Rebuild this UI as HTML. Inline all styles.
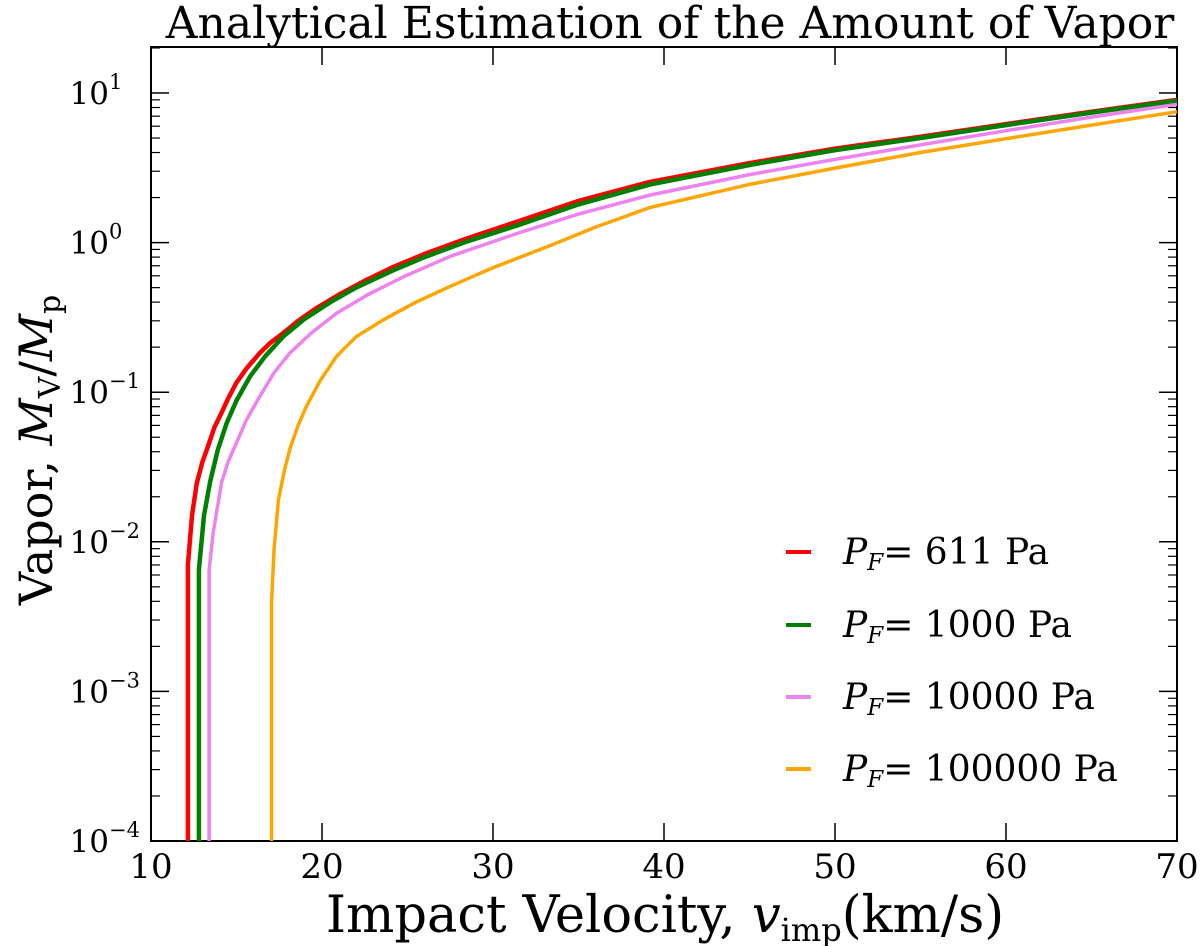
<!DOCTYPE html>
<html><head><meta charset="utf-8"><style>
body{margin:0;background:#fff;}
svg{display:block;font-family:"DejaVu Serif","Liberation Serif",serif;}
</style></head><body>
<svg id="chart" width="1200" height="946" viewBox="0 0 1200 946">
<text x="670" y="38" font-size="44" text-anchor="middle">Analytical Estimation of the Amount of Vapor</text>
<g id="axes"></g><g id="series"></g><g id="legend"></g>
<text x="665" y="932" font-size="51" text-anchor="middle">Impact Velocity, <tspan font-style="italic">v</tspan><tspan font-size="32" dy="9">imp</tspan><tspan dy="-9">(km/s)</tspan></text>
<text transform="translate(52,450) rotate(-90)" font-size="46" text-anchor="middle">Vapor, <tspan font-style="italic">M</tspan><tspan font-size="30" dy="8">V</tspan><tspan dy="-8">/</tspan><tspan font-style="italic">M</tspan><tspan font-size="30" dy="8">p</tspan></text>
</svg>
<script>
const xTicks=[10,20,30,40,50,60,70];
const yTickExps=[-4,-3,-2,-1,0,1];
const seriesNames=["611 Pa","1000 Pa","10000 Pa","100000 Pa"];
const seriesColors=["#ff0000","#008000","#ee82ee","#ffa500"];
const redX=[12.16,12.16,12.4,12.67,13.0,13.35,13.7,14.13,14.5,15.0,15.6,16.37,17.0,17.74,18.6,19.69,21,22.6,24.2,26.1,28.5,31.4,35,39.2,45,50,55,60,65,70];
const redY=[1e-4,7e-3,1.5e-2,2.45e-2,3.4e-2,4.4e-2,5.8e-2,7.3e-2,9e-2,0.116,0.145,0.183,0.215,0.249,0.3,0.366,0.45,0.564,0.69,0.85,1.07,1.38,1.9,2.55,3.4,4.25,5.1,6.2,7.5,9.0];
const greenX=[12.8,12.8,13.1,13.45,13.9,14.42,15.0,15.8,16.7,17.74,19,20.5,22,24,26,28.5,31.4,35,39.2,45,50,55,60,65,70];
const greenY=[1e-4,6.5e-3,1.5e-2,2.5e-2,4.1e-2,6.2e-2,8.8e-2,0.128,0.175,0.236,0.31,0.4,0.5,0.64,0.8,1.02,1.3,1.8,2.45,3.3,4.15,5.0,6.1,7.4,8.9];
const pinkX=[13.4,13.4,13.64,14.13,14.5,15.0,15.6,16.37,17.2,18.13,19.4,20.86,22.7,24.75,27.5,31.4,35,39.2,45,50,55,60,65,70];
const pinkY=[1e-4,6.5e-3,1.15e-2,2.5e-2,3.4e-2,4.6e-2,6.6e-2,9.4e-2,0.135,0.183,0.25,0.338,0.45,0.59,0.81,1.15,1.55,2.08,2.85,3.6,4.5,5.6,6.9,8.4];
const orangeX=[17.05,17.05,17.2,17.45,17.8,18.13,18.6,19.1,19.9,20.86,22,23.6,25.5,27.5,30,33.3,36,39.2,45,50,55,60,65,70];
const orangeY=[1e-4,4e-3,9e-3,1.9e-2,3e-2,4.2e-2,6e-2,8.1e-2,0.12,0.174,0.235,0.305,0.4,0.51,0.68,0.95,1.27,1.72,2.45,3.15,4.0,4.95,6.1,7.5];
const L=151,R=1177,T=47,B=841,xMin=10,xMax=70,yMinE=-4,decade=149.6;
const NS="http://www.w3.org/2000/svg";
function xs(v){return L+(v-xMin)/(xMax-xMin)*(R-L);}
function ys(v){return B-(Math.log10(v)-yMinE)*decade;}
function mk(t,a,p){const e=document.createElementNS(NS,t);for(const k in a)e.setAttribute(k,a[k]);p.appendChild(e);return e;}
const axes=document.getElementById('axes'),ser=document.getElementById('series'),leg=document.getElementById('legend');
const frame=mk('rect',{x:L,y:T,width:R-L,height:B-T,fill:'none',stroke:'#000','stroke-width':2},axes);


xTicks.forEach(v=>{const x=xs(v);
 const t=mk('line',{x1:x,x2:x,y1:B,y2:B-18,stroke:'#000','stroke-width':1.5},axes);
 
 
 mk('line',{x1:x,x2:x,y1:T,y2:T+18,stroke:'#000','stroke-width':1.5},axes);
 const l=mk('text',{x:x,y:B+37,'font-size':34,'text-anchor':'middle'},axes);l.textContent=v;
 
 
});
yTickExps.forEach(e=>{const y=ys(Math.pow(10,e));
 const t=mk('line',{x1:L,x2:L+18,y1:y,y2:y,stroke:'#000','stroke-width':1.5},axes);
 
 
 mk('line',{x1:R,x2:R-18,y1:y,y2:y,stroke:'#000','stroke-width':1.5},axes);
 const l=mk('text',{x:L-42,y:y+11,'font-size':31,'text-anchor':'end'},axes);l.textContent='10';
 
 
 const s=mk('text',{x:L-42,y:y-4,'font-size':21,'text-anchor':'start'},axes);s.textContent=(e<0?'\u2212':'')+Math.abs(e);
 for(let m=2;m<=9;m++){const yy=ys(m*Math.pow(10,e));if(yy<T)continue;
  mk('line',{x1:L,x2:L+9,y1:yy,y2:yy,stroke:'#000','stroke-width':1.2},axes);
  mk('line',{x1:R,x2:R-9,y1:yy,y2:yy,stroke:'#000','stroke-width':1.2},axes);}
});
const data=[[redX,redY],[greenX,greenY],[pinkX,pinkY],[orangeX,orangeY]];
const lineNames=['line-611-pa','line-1000-pa','line-10000-pa','line-100000-pa'];
data.forEach((d,i)=>{const pts=d[0].map((x,j)=>xs(x).toFixed(1)+','+ys(d[1][j]).toFixed(1)).join(' ');
 const p=mk('polyline',{points:pts,fill:'none',stroke:seriesColors[i],'stroke-width':i<2?4.5:3.5,'stroke-linejoin':'round'},ser);
 
 
});
const legY=[552,625,697,769];
seriesNames.forEach((n,i)=>{const g=mk('g',{},leg);
 
 
 mk('line',{x1:786,x2:811,y1:legY[i],y2:legY[i],stroke:seriesColors[i],'stroke-width':4},g);
 const t=mk('text',{x:843,y:legY[i]+12,'font-size':36},g);
 t.innerHTML='<tspan font-style="italic">P</tspan><tspan font-style="italic" font-size="23" dy="6">F</tspan><tspan dy="-6">= '+n+'</tspan>';
});
</script>
</body></html>
